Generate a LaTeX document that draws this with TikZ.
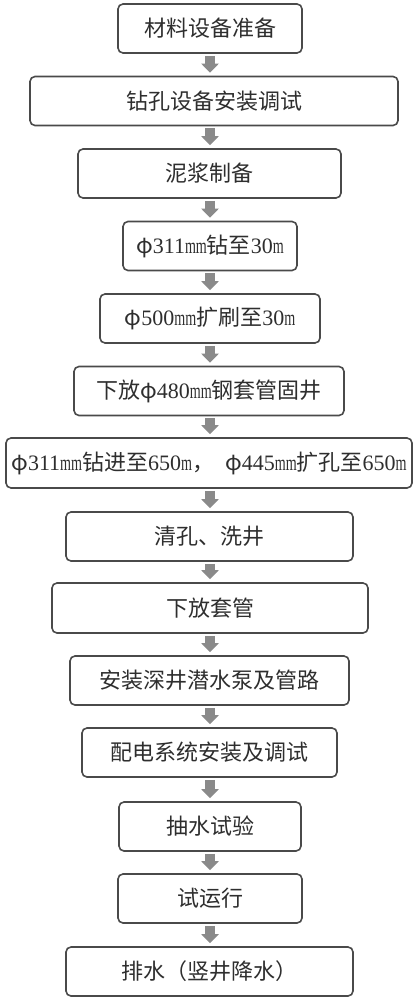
\documentclass[tikz,border=0pt]{standalone}
\usepackage{fontspec}
\newfontfamily\cjk{Noto Sans CJK SC}
\newfontfamily\lt{Liberation Serif}
\newfontfamily\ltm[FakeStretch=0.64]{Liberation Serif}
\usetikzlibrary{arrows.meta}
\definecolor{boxline}{HTML}{4A4A4A}
\definecolor{arrowgray}{HTML}{8A8A8A}
\definecolor{txt}{HTML}{2E2E2E}
\newcommand{\dg}[1]{{\lt #1}}
\newcommand{\mmu}[1]{{\ltm #1}}
\begin{document}
\begin{tikzpicture}[x=1pt,y=-1pt,
  stepbox/.style={draw=boxline, line width=1.6pt, rounded corners=5pt, fill=white,
    minimum height=49pt, inner sep=0pt, text=txt, font=\cjk\fontsize{22pt}{26pt}\selectfont},
  flowarrow/.style={draw=arrowgray, line width=10pt, shorten <=2pt, shorten >=3pt,
    -{Triangle[width=17pt,length=9pt]}}]
\useasboundingbox[fill=white] (0,0) rectangle (419,1000);
\node[stepbox, minimum width=184pt] (n1) at (210,28.5) {材料设备准备};
\node[stepbox, minimum width=368pt] (n2) at (214,101) {钻孔设备安装调试};
\node[stepbox, minimum width=263pt] (n3) at (209.5,173.5) {泥浆制备};
\node[stepbox, minimum width=174pt] (n4) at (210,246) {φ\dg{311}\mmu{mm}钻至\dg{30}\mmu{m}};
\node[stepbox, minimum width=220pt] (n5) at (210,318.5) {φ\dg{500}\mmu{mm}扩刷至\dg{30}\mmu{m}};
\node[stepbox, minimum width=270pt] (n6) at (209,391) {下放φ\dg{480}\mmu{mm}钢套管固井};
\node[stepbox, minimum width=406pt, minimum height=50pt] (n7) at (209,463) {φ\dg{311}\mmu{mm}钻进至\dg{650}\mmu{m}，\hspace{11pt}φ\dg{445}\mmu{mm}扩孔至\dg{650}\mmu{m}};
\node[stepbox, minimum width=287pt] (n8) at (209.5,536.5) {清孔、洗井};
\node[stepbox, minimum width=316pt, minimum height=50pt] (n9) at (210,608) {下放套管};
\node[stepbox, minimum width=279pt] (n10) at (209.5,680.5) {安装深井潜水泵及管路};
\node[stepbox, minimum width=255pt] (n11) at (209.5,752.5) {配电系统安装及调试};
\node[stepbox, minimum width=182pt] (n12) at (210,826.5) {抽水试验};
\node[stepbox, minimum width=184pt] (n13) at (210,898.5) {试运行};
\node[stepbox, minimum width=287pt] (n14) at (209.5,971.5) {排水（竖井降水）};
\foreach \a/\b in {n1/n2,n2/n3,n3/n4,n4/n5,n5/n6,n6/n7,n7/n8,n8/n9,n9/n10,n10/n11,n11/n12,n12/n13,n13/n14}
  \draw[flowarrow] (\a.south -| n1.center) -- (\b.north -| n1.center);
\end{tikzpicture}
\end{document}
